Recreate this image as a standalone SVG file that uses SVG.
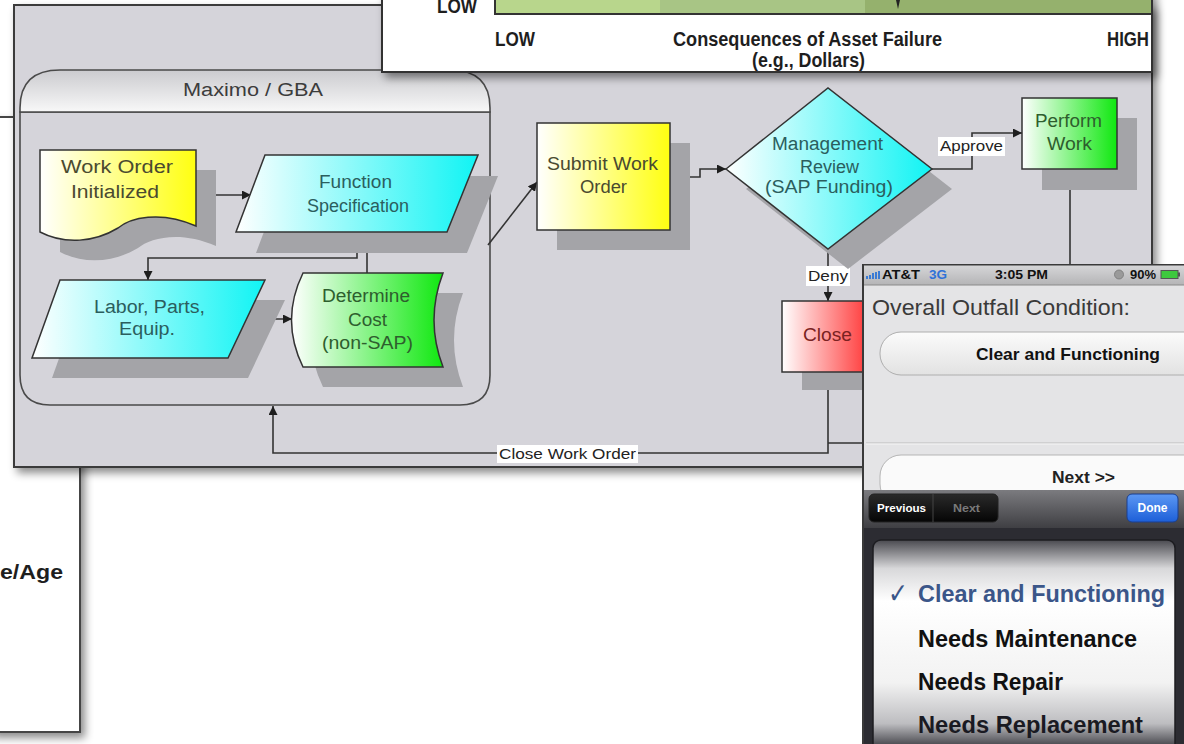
<svg xmlns="http://www.w3.org/2000/svg" width="1184" height="744" viewBox="0 0 1184 744">
<defs>
<style>
.ft{font-family:"Liberation Sans",Arial,sans-serif;font-size:18px;}
.lbl{font-family:"Liberation Sans",Arial,sans-serif;font-size:15px;fill:#222;}
.sh{fill:#a4a4a8;}
.nd{stroke:#333;stroke-width:1.5;}
.cn{fill:none;stroke:#333;stroke-width:1.6;}
.ch{font-family:"Liberation Sans",Arial,sans-serif;font-weight:bold;fill:#1e1e1e;font-size:20px;}
.ph{font-family:"Liberation Sans",Arial,sans-serif;font-weight:bold;}
</style>
<linearGradient id="gy" x1="0" x2="1"><stop offset="0" stop-color="#ffffff"/><stop offset="1" stop-color="#ffff10"/></linearGradient>
<linearGradient id="gc" x1="0" x2="1"><stop offset="0" stop-color="#ffffff"/><stop offset="1" stop-color="#10f4f4"/></linearGradient>
<linearGradient id="gg" x1="0" x2="1"><stop offset="0" stop-color="#ffffff"/><stop offset="1" stop-color="#10e810"/></linearGradient>
<linearGradient id="gr" x1="0" x2="1"><stop offset="0" stop-color="#ffffff"/><stop offset="1" stop-color="#ff1a1a"/></linearGradient>
<linearGradient id="hdr" x1="0" y1="0" x2="0" y2="1"><stop offset="0" stop-color="#cbcbcf"/><stop offset="1" stop-color="#f8f8f8"/></linearGradient>
<linearGradient id="sb" x1="0" y1="0" x2="0" y2="1"><stop offset="0" stop-color="#d8d8da"/><stop offset="1" stop-color="#b4b4b6"/></linearGradient>
<linearGradient id="pill" x1="0" y1="0" x2="0" y2="1"><stop offset="0" stop-color="#fbfbfb"/><stop offset="1" stop-color="#e2e2e2"/></linearGradient>
<linearGradient id="tb" x1="0" y1="0" x2="0" y2="1"><stop offset="0" stop-color="#7b7b7f"/><stop offset="1" stop-color="#3f3f43"/></linearGradient>
<linearGradient id="seg" x1="0" y1="0" x2="0" y2="1"><stop offset="0" stop-color="#2a2a2a"/><stop offset="1" stop-color="#050505"/></linearGradient>
<linearGradient id="done" x1="0" y1="0" x2="0" y2="1"><stop offset="0" stop-color="#5c98f4"/><stop offset="1" stop-color="#1d5fd8"/></linearGradient>
<linearGradient id="pk" x1="0" y1="540" x2="0" y2="744" gradientUnits="userSpaceOnUse"><stop offset="0" stop-color="#4a4a50"/><stop offset="0.14" stop-color="#d8d8da"/><stop offset="0.3" stop-color="#ffffff"/><stop offset="0.7" stop-color="#f2f2f2"/><stop offset="0.9" stop-color="#bdbdc0"/><stop offset="1" stop-color="#505056"/></linearGradient>
<marker id="ar" viewBox="0 0 10 10" refX="10" refY="5" markerWidth="9" markerHeight="9" markerUnits="userSpaceOnUse" orient="auto"><path d="M0,0 L10,5 L0,10 z" fill="#1e1e1e"/></marker>
<filter id="ds" x="-10%" y="-10%" width="125%" height="130%"><feDropShadow dx="4" dy="5" stdDeviation="4" flood-color="#000" flood-opacity="0.45"/></filter>
<clipPath id="phclip"><rect x="862" y="264" width="330" height="490"/></clipPath>
</defs>

<g id="back-card">
<rect x="-10" y="117" width="90" height="615" fill="#ffffff" stroke="#444" stroke-width="2" filter="url(#ds)"/>
<text x="0" y="579" class="ch" textLength="63" lengthAdjust="spacingAndGlyphs">e/Age</text>
</g>

<g id="flowchart-card">
<rect x="14" y="5" width="1138" height="462" fill="#d5d4da" stroke="#3a3a3a" stroke-width="2" filter="url(#ds)"/>
</g>

<g id="maximo-container">
<path d="M20,112 V375 Q20,405 50,405 H460 Q490,405 490,375 V112 Z" fill="#d5d4da" stroke="#4a4a4a" stroke-width="1.6"/>
<path d="M20,112 V108 Q20,70 60,70 H450 Q490,70 490,108 V112 Z" fill="url(#hdr)" stroke="#4a4a4a" stroke-width="1.6"/>
<text class="ft" x="183" y="96" fill="#3c3c3c" textLength="140" lengthAdjust="spacingAndGlyphs">Maximo / GBA</text>
</g>

<g id="connectors">
<path class="cn" d="M196,195 H251" marker-end="url(#ar)"/>
<path class="cn" d="M357,232 V258 H148 V280" marker-end="url(#ar)"/>
<path class="cn" d="M367,273 V248 H357 V233" marker-end="url(#ar)"/>
<path class="cn" d="M246,319 H292" marker-end="url(#ar)"/>
<path class="cn" d="M488,245 L537,182" marker-end="url(#ar)"/>
<path class="cn" d="M670,177 H700 V169 H726" marker-end="url(#ar)"/>
<path class="cn" d="M932,169 H972 V133 H1022" marker-end="url(#ar)"/>
<path class="cn" d="M828,249 V301" marker-end="url(#ar)"/>
<path class="cn" d="M1070,169 V443 H828"/>
<path class="cn" d="M828,372 V453 H273 V406" marker-end="url(#ar)"/>
<rect x="938" y="137" width="67" height="19" fill="#ffffff"/>
<text class="lbl" x="940" y="151" textLength="63" lengthAdjust="spacingAndGlyphs">Approve</text>
<rect x="806" y="266" width="44" height="20" fill="#ffffff"/>
<text class="lbl" x="808" y="281" textLength="40" lengthAdjust="spacingAndGlyphs">Deny</text>
<rect x="497" y="445" width="141" height="18" fill="#ffffff"/>
<text class="lbl" x="499" y="459" textLength="137" lengthAdjust="spacingAndGlyphs">Close Work Order</text>
</g>

<g id="work-order-initialized">
<path class="sh" d="M60,170 H216 V246 C180,230 150,238 138,248 C115,262 85,265 60,252 Z"/>
<path class="nd" fill="url(#gy)" d="M40,150 H196 V226 C160,210 130,218 118,228 C95,242 65,245 40,232 Z"/>
<text class="ft" fill="#4a4a30" x="61" y="173" textLength="112" lengthAdjust="spacingAndGlyphs">Work Order</text>
<text class="ft" fill="#4a4a30" x="71" y="198" textLength="88" lengthAdjust="spacingAndGlyphs">Initialized</text>
</g>

<g id="function-specification">
<polygon class="sh" points="285,176 498,176 467,253 256,253"/>
<polygon class="nd" fill="url(#gc)" points="265,155 478,155 447,232 236,232"/>
<text class="ft" fill="#2b5e5e" x="319" y="188" textLength="73" lengthAdjust="spacingAndGlyphs">Function</text>
<text class="ft" fill="#2b5e5e" x="307" y="212" textLength="102" lengthAdjust="spacingAndGlyphs">Specification</text>
</g>

<g id="labor-parts-equip">
<polygon class="sh" points="80,300 285,300 248,378 52,378"/>
<polygon class="nd" fill="url(#gc)" points="60,280 265,280 228,358 32,358"/>
<text class="ft" fill="#2b5e5e" x="94" y="313" textLength="111" lengthAdjust="spacingAndGlyphs">Labor, Parts,</text>
<text class="ft" fill="#2b5e5e" x="119" y="335" textLength="56" lengthAdjust="spacingAndGlyphs">Equip.</text>
</g>

<g id="determine-cost">
<path class="sh" d="M323,293 H463 Q445,340 463,387 H323 Q300,340 323,293 Z"/>
<path class="nd" fill="url(#gg)" d="M303,273 H443 Q425,320 443,367 H303 Q280,320 303,273 Z"/>
<text class="ft" fill="#2e5e2e" x="322" y="302" textLength="88" lengthAdjust="spacingAndGlyphs">Determine</text>
<text class="ft" fill="#2e5e2e" x="348" y="326" textLength="39" lengthAdjust="spacingAndGlyphs">Cost</text>
<text class="ft" fill="#2e5e2e" x="322" y="349" textLength="91" lengthAdjust="spacingAndGlyphs">(non-SAP)</text>
</g>

<g id="submit-work-order">
<rect class="sh" x="557" y="143" width="133" height="107"/>
<rect class="nd" fill="url(#gy)" x="537" y="123" width="133" height="107"/>
<text class="ft" fill="#4a4a30" x="547" y="170" textLength="111" lengthAdjust="spacingAndGlyphs">Submit Work</text>
<text class="ft" fill="#4a4a30" x="580" y="193" textLength="47" lengthAdjust="spacingAndGlyphs">Order</text>
</g>

<g id="management-review">
<polygon class="sh" points="746,189 848,108 952,189 848,269"/>
<polygon class="nd" fill="url(#gc)" points="726,169 828,88 932,169 828,249"/>
<text class="ft" fill="#2b5e5e" x="772" y="150" textLength="111" lengthAdjust="spacingAndGlyphs">Management</text>
<text class="ft" fill="#2b5e5e" x="800" y="173" textLength="59" lengthAdjust="spacingAndGlyphs">Review</text>
<text class="ft" fill="#2b5e5e" x="765" y="193" textLength="128" lengthAdjust="spacingAndGlyphs">(SAP Funding)</text>
</g>

<g id="perform-work">
<rect class="sh" x="1042" y="118" width="95" height="72"/>
<rect class="nd" fill="url(#gg)" x="1022" y="98" width="95" height="71"/>
<text class="ft" fill="#2e5e2e" x="1035" y="127" textLength="67" lengthAdjust="spacingAndGlyphs">Perform</text>
<text class="ft" fill="#2e5e2e" x="1047" y="150" textLength="45" lengthAdjust="spacingAndGlyphs">Work</text>
</g>

<g id="close">
<rect class="sh" x="802" y="320" width="100" height="70"/>
<rect class="nd" fill="url(#gr)" x="782" y="301" width="100" height="71"/>
<text class="ft" fill="#7a2222" x="803" y="341" textLength="49" lengthAdjust="spacingAndGlyphs">Close</text>
</g>

<g id="chart-card">
<rect x="382" y="-10" width="770" height="82" fill="#ffffff" stroke="#333" stroke-width="2" filter="url(#ds)"/>
<rect x="495" y="-5" width="165" height="19" fill="#b8d68c"/>
<rect x="660" y="-5" width="205" height="19" fill="#a8c585"/>
<rect x="865" y="-5" width="286" height="19" fill="#95b16d"/>
<path d="M495,-5 V14 H1151" fill="none" stroke="#333" stroke-width="2"/>
<polygon points="896,0 900,0 898,9" fill="#222"/>
<text class="ch" x="437" y="13" font-size="16" textLength="40" lengthAdjust="spacingAndGlyphs">LOW</text>
<text class="ch" x="495" y="46" textLength="40" lengthAdjust="spacingAndGlyphs">LOW</text>
<text class="ch" x="673" y="46" font-size="18" textLength="269" lengthAdjust="spacingAndGlyphs">Consequences of Asset Failure</text>
<text class="ch" x="752" y="67" font-size="17" textLength="113" lengthAdjust="spacingAndGlyphs">(e.g., Dollars)</text>
<text class="ch" x="1107" y="46" textLength="42" lengthAdjust="spacingAndGlyphs">HIGH</text>
</g>

<g id="phone" clip-path="url(#phclip)">
<rect x="862" y="264" width="330" height="490" fill="#e4e4e6"/>
<rect x="862" y="264" width="330" height="21" fill="url(#sb)"/>
<line x1="862" y1="285" x2="1190" y2="285" stroke="#8a8a8a" stroke-width="1"/>
<g fill="#3a7bd5">
<rect x="866" y="276" width="2" height="3"/><rect x="869" y="275" width="2" height="4"/><rect x="872" y="273" width="2" height="6"/><rect x="875" y="272" width="2" height="7"/><rect x="878" y="271" width="2" height="8"/>
</g>
<text class="ph" x="882" y="279" font-size="13" fill="#111" textLength="38" lengthAdjust="spacingAndGlyphs">AT&amp;T</text>
<text class="ph" x="929" y="279" font-size="13" fill="#2f72d8" textLength="18" lengthAdjust="spacingAndGlyphs">3G</text>
<text class="ph" x="995" y="279" font-size="13" fill="#111" textLength="53" lengthAdjust="spacingAndGlyphs">3:05 PM</text>
<circle cx="1119" cy="274.5" r="4.5" fill="#9a9a9a" stroke="#777" stroke-width="0.8"/>
<text class="ph" x="1130" y="279" font-size="13" fill="#111" textLength="26" lengthAdjust="spacingAndGlyphs">90%</text>
<rect x="1161" y="270.5" width="17" height="8" fill="#3ec93e" stroke="#555" stroke-width="1"/>
<rect x="1178" y="272.5" width="2" height="4" fill="#555"/>
<text x="872" y="315" font-family="'Liberation Sans',Arial,sans-serif" font-size="22" fill="#3a3a3a" textLength="258" lengthAdjust="spacingAndGlyphs">Overall Outfall Condition:</text>
<rect x="880" y="332" width="330" height="43" rx="21" fill="url(#pill)" stroke="#aeaeae" stroke-width="1"/>
<text class="ph" x="976" y="360" font-size="17" fill="#111" textLength="184" lengthAdjust="spacingAndGlyphs">Clear and Functioning</text>
<line x1="866" y1="443" x2="1190" y2="443" stroke="#bcbcbc" stroke-width="1"/>
<line x1="866" y1="444" x2="1190" y2="444" stroke="#f6f6f6" stroke-width="1"/>
<rect x="880" y="455" width="330" height="50" rx="21" fill="#fafafa" stroke="#b5b5b5" stroke-width="1"/>
<text class="ph" x="1052" y="483" font-size="17" fill="#222" textLength="63" lengthAdjust="spacingAndGlyphs">Next &gt;&gt;</text>
<rect x="862" y="490" width="330" height="38" fill="url(#tb)"/>
<rect x="862" y="528" width="330" height="220" fill="#2c2c32"/>
<rect x="869" y="494" width="129" height="28" rx="5" fill="url(#seg)" stroke="#222" stroke-width="1"/>
<line x1="933" y1="494" x2="933" y2="522" stroke="#444" stroke-width="1"/>
<text class="ph" x="877" y="512" font-size="11.5" fill="#ffffff" textLength="49" lengthAdjust="spacingAndGlyphs">Previous</text>
<text class="ph" x="953" y="512" font-size="11.5" fill="#7a7a7a" textLength="27" lengthAdjust="spacingAndGlyphs">Next</text>
<rect x="1127" y="494" width="51" height="28" rx="5" fill="url(#done)" stroke="#1a3f8f" stroke-width="1"/>
<text class="ph" x="1152.5" y="512" font-size="12" fill="#ffffff" text-anchor="middle">Done</text>
<rect x="873" y="540" width="302" height="214" rx="8" fill="url(#pk)" stroke="#1c1c20" stroke-width="1.5"/>
<text x="888" y="603" font-family="'DejaVu Sans',sans-serif" font-weight="bold" font-size="28" fill="#3b5689" textLength="20" lengthAdjust="spacingAndGlyphs">✓</text>
<text class="ph" x="918" y="602" font-size="23" fill="#3b5689" textLength="247" lengthAdjust="spacingAndGlyphs">Clear and Functioning</text>
<text class="ph" x="918" y="647" font-size="23" fill="#111" textLength="219" lengthAdjust="spacingAndGlyphs">Needs Maintenance</text>
<text class="ph" x="918" y="690" font-size="23" fill="#111" textLength="145" lengthAdjust="spacingAndGlyphs">Needs Repair</text>
<text class="ph" x="918" y="733" font-size="23" fill="#1a1a22" textLength="225" lengthAdjust="spacingAndGlyphs">Needs Replacement</text>
<path d="M863,744 V264.5 H1190" fill="none" stroke="#3a3a3a" stroke-width="2"/>
</g>
</svg>
